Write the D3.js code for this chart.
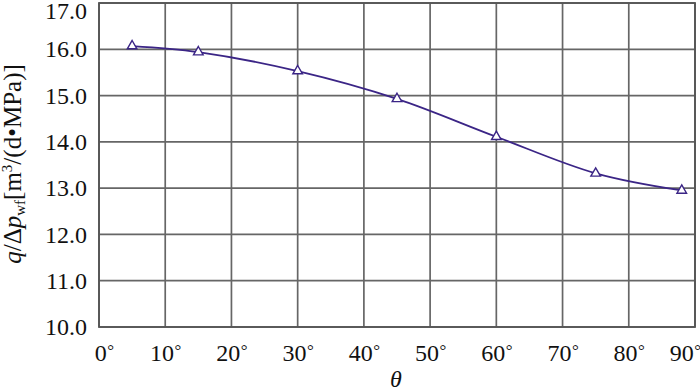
<!DOCTYPE html>
<html>
<head>
<meta charset="utf-8">
<script src="https://cdn.jsdelivr.net/npm/d3@7"></script>
<style>
body { margin: 0; background: #fff; }
</style>
</head>
<body>
<div></div>
<script>
var w = 700;
var h = 392;
var serif = "'Liberation Serif', 'Times New Roman', serif";

// data
var thetaDeg = [5, 15, 30, 45, 60, 75, 88];
var qRatio = [16.07, 15.94, 15.53, 14.93, 14.11, 13.32, 12.95];
var xTicks = [0, 10, 20, 30, 40, 50, 60, 70, 80, 90];
var yTicks = [10, 11, 12, 13, 14, 15, 16, 17];

var padL = 99, padR = 695, padT = 3, padB = 327;

var svg = d3.select("div").append("svg")
	.attr("width", w)
	.attr("height", h);

var x = d3.scaleLinear().domain([0, 90]).range([padL, padR]);
var y = d3.scaleLinear().domain([10, 17]).range([padB, padT]);

//grid
var grid = svg.append("g").attr("class", "grid");
grid.selectAll("line.vx")
	.data(xTicks)
	.enter()
	.append("line")
	.attr("x1", function(d) { return x(d); })
	.attr("x2", function(d) { return x(d); })
	.attr("y1", padT)
	.attr("y2", padB)
	.attr("stroke", "#666")
	.attr("stroke-width", 1.7);

grid.selectAll("line.hy")
	.data(yTicks)
	.enter()
	.append("line")
	.attr("x1", padL)
	.attr("x2", padR)
	.attr("y1", function(d) { return y(d); })
	.attr("y2", function(d) { return y(d); })
	.attr("stroke", "#666")
	.attr("stroke-width", 1.7);

svg.append("rect")
	.attr("x", padL)
	.attr("y", padT)
	.attr("width", padR - padL)
	.attr("height", padB - padT)
	.attr("fill", "none")
	.attr("stroke", "#555")
	.attr("stroke-width", 1.8);

//axes (labels only)
var xAxis = svg.append("g")
	.attr("transform", "translate(0," + padB + ")")
	.call(d3.axisBottom(x).tickValues(xTicks).tickSize(0).tickPadding(0));
xAxis.select(".domain").remove();
xAxis.selectAll("text")
	.attr("font-size", 24)
	.attr("y", 34)
	.attr("dy", 0)
	.attr("dx", function(d) { return d == 0 ? 5 : d == 90 ? -10 : 0; })
	.text(null)
	.each(function(d) {
		var t = d3.select(this);
		t.append("tspan").text(d);
		t.append("tspan").attr("font-size", 17).attr("dx", 0.5).attr("dy", -5).text("°");
	});

var yAxis = svg.append("g")
	.attr("transform", "translate(" + padL + ",0)")
	.call(d3.axisLeft(y).tickValues(yTicks).tickSize(0).tickPadding(12)
		.tickFormat(d3.format(".1f")));
yAxis.select(".domain").remove();
yAxis.selectAll("text")
	.attr("font-size", 24)
	.attr("dy", function(d) { return d == 17 ? "0.65em" : "0.32em"; });

//axis titles
svg.append("text")
	.attr("x", 396)
	.attr("y", 387)
	.attr("text-anchor", "middle")
	.attr("font-size", 24)
	.attr("font-style", "italic")
	.text("θ");

var ylab = svg.append("text")
	.attr("transform", "translate(21," + 164 + ") rotate(-90)")
	.attr("text-anchor", "middle")
	.attr("font-size", 25);
ylab.append("tspan").attr("font-style", "italic").text("q");
ylab.append("tspan").text("/Δ");
ylab.append("tspan").attr("font-style", "italic").text("p");
ylab.append("tspan").attr("font-size", 15).attr("dy", 4).text("wf");
ylab.append("tspan").attr("dy", -4).text("[m");
ylab.append("tspan").attr("font-size", 15).attr("dy", -9).text("3");
ylab.append("tspan").attr("dy", 9).text("/(d•MPa)]");

svg.selectAll("text")
	.style("font-family", serif)
	.attr("fill", "#111");

//curve
var pts = thetaDeg.map(function(d, i) { return [d, qRatio[i]]; });
var line = d3.line()
	.x(function(d) { return x(d[0]); })
	.y(function(d) { return y(d[1]); })
	.curve(d3.curveCatmullRom);

svg.append("path")
	.datum(pts)
	.attr("d", line)
	.attr("fill", "none")
	.attr("stroke", "#3b2586")
	.attr("stroke-width", 1.8);

var tri = d3.symbol().type(d3.symbolTriangle).size(40);
svg.selectAll("path.pt")
	.data(pts)
	.enter()
	.append("path")
	.attr("class", "pt")
	.attr("d", tri)
	.attr("transform", function(d) { return "translate(" + x(d[0]) + "," + y(d[1]) + ")"; })
	.attr("fill", "#fff")
	.attr("stroke", "#3b2586")
	.attr("stroke-width", 1.4);
</script>
</body>
</html>
